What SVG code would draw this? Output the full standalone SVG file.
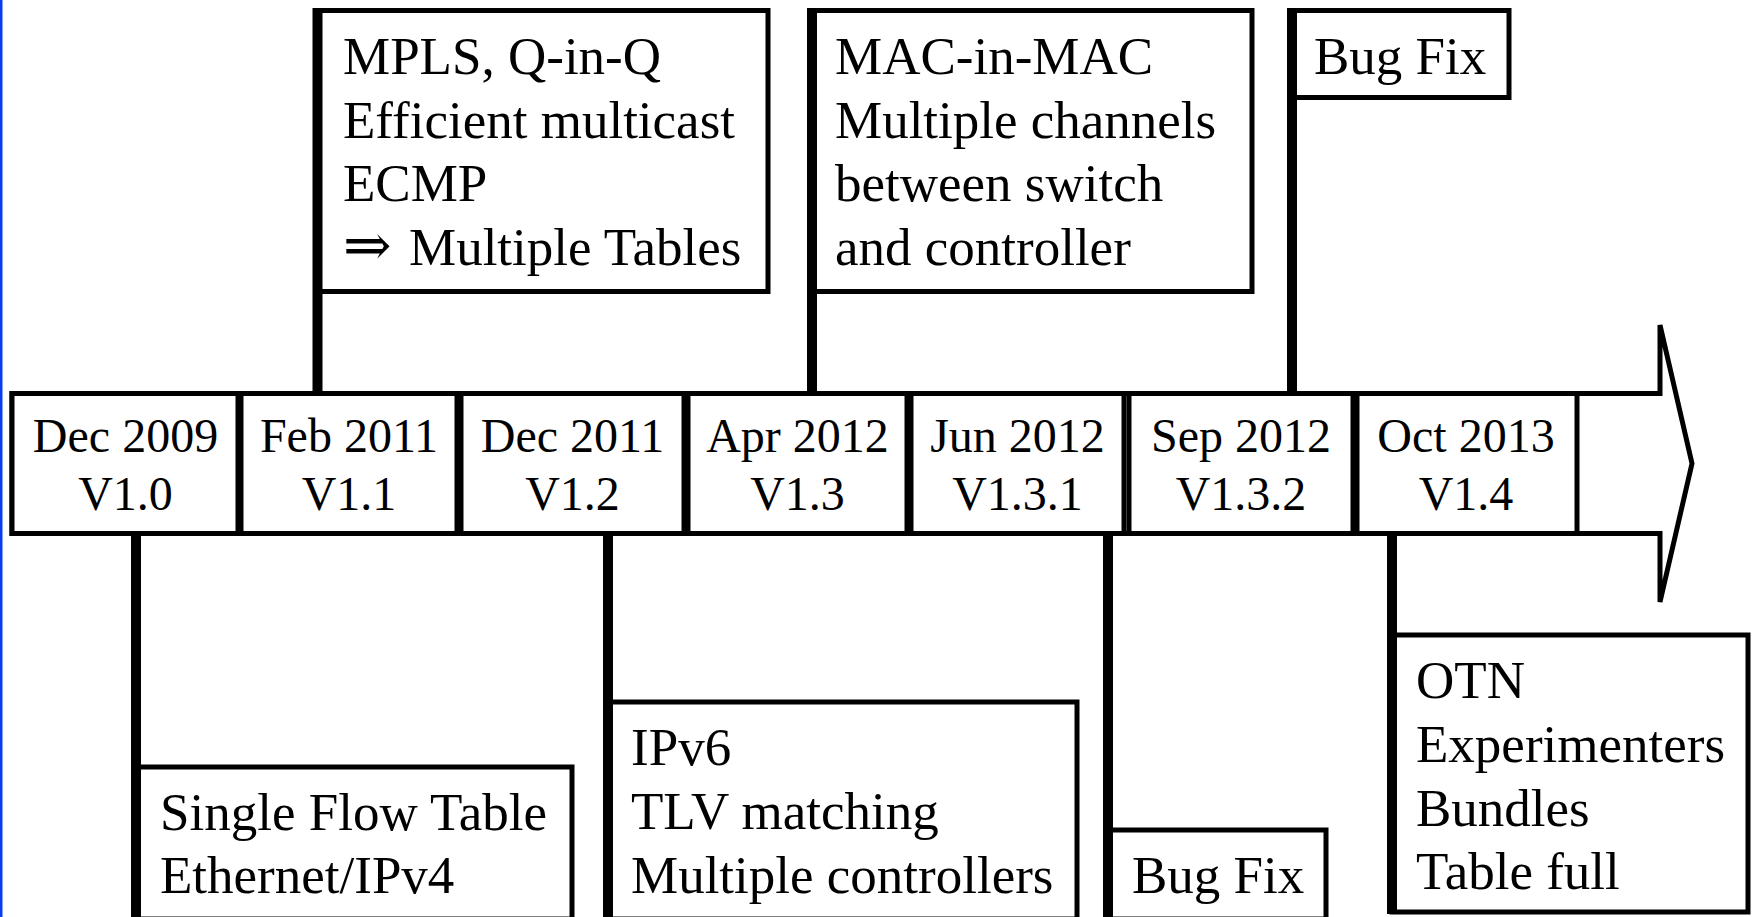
<svg xmlns="http://www.w3.org/2000/svg" width="1757" height="917" viewBox="0 0 1757 917">
<style>
.box{fill:#fff;stroke:#000;stroke-width:5}
.bar{stroke:#000;stroke-width:10;fill:none}
.t{font-family:'Liberation Serif','Times New Roman','DejaVu Serif',serif;font-size:53px;fill:#000}
.tl{font-family:'Liberation Serif','Times New Roman',serif;font-size:48px;fill:#000;text-anchor:middle}
</style>
<rect x="0" y="0" width="1757" height="917" fill="#fff"/>
<rect x="0" y="0" width="2.5" height="917" fill="#0b3cf5"/>
<g id="timeline-arrow">
<polygon class="box" points="12,393.5 1660,393.5 1660,325 1692,463.5 1660,602 1660,533.5 12,533.5"/>
</g>
<g id="v10"><rect class="box" x="12" y="393.5" width="226" height="140"/><text class="tl" x="125.5" y="452">Dec 2009</text><text class="tl" x="125.5" y="510">V1.0</text></g>
<g id="v11"><rect class="box" x="241" y="393.5" width="216" height="140"/><text class="tl" x="349" y="452">Feb 2011</text><text class="tl" x="349" y="510">V1.1</text></g>
<g id="v12"><rect class="box" x="461" y="393.5" width="223" height="140"/><text class="tl" x="572.5" y="452">Dec 2011</text><text class="tl" x="572.5" y="510">V1.2</text></g>
<g id="v13"><rect class="box" x="688" y="393.5" width="219" height="140"/><text class="tl" x="797.5" y="452">Apr 2012</text><text class="tl" x="797.5" y="510">V1.3</text></g>
<g id="v131"><rect class="box" x="911" y="393.5" width="213" height="140"/><text class="tl" x="1017.5" y="452">Jun 2012</text><text class="tl" x="1017.5" y="510">V1.3.1</text></g>
<g id="v132"><rect class="box" x="1129" y="393.5" width="224" height="140"/><text class="tl" x="1241" y="452">Sep 2012</text><text class="tl" x="1241" y="510">V1.3.2</text></g>
<g id="v14"><rect class="box" x="1357" y="393.5" width="220" height="140"/><text class="tl" x="1466" y="452">Oct 2013</text><text class="tl" x="1466" y="510">V1.4</text></g>

<g id="note-v11"><rect class="box" x="317.5" y="10.5" width="450.5" height="281"/>
<text class="t" x="343" y="74">MPLS, Q-in-Q</text><text class="t" x="343" y="138">Efficient multicast</text><text class="t" x="343" y="201">ECMP</text><text class="t" y="265"><tspan x="343" font-size="58">⇒</tspan><tspan x="409">Multiple Tables</tspan></text></g>
<g id="note-v13"><rect class="box" x="812" y="10.5" width="440" height="281"/>
<text class="t" x="835" y="74">MAC-in-MAC</text><text class="t" x="835" y="138">Multiple channels</text><text class="t" x="835" y="201">between switch</text><text class="t" x="835" y="265">and controller</text></g>
<g id="note-v132"><rect class="box" x="1292" y="10.5" width="217" height="87"/>
<text class="t" x="1314" y="74">Bug Fix</text></g>
<g id="note-v10"><rect class="box" x="136" y="767" width="436" height="152"/>
<text class="t" x="160" y="830">Single Flow Table</text><text class="t" x="160" y="893">Ethernet/IPv4</text></g>
<g id="note-v12"><rect class="box" x="608" y="702" width="469" height="217"/>
<text class="t" x="631" y="765">IPv6</text><text class="t" x="631" y="829">TLV matching</text><text class="t" x="631" y="893">Multiple controllers</text></g>
<g id="note-v131"><rect class="box" x="1108" y="830" width="218" height="89"/>
<text class="t" x="1132" y="893">Bug Fix</text></g>
<g id="note-v14"><rect class="box" x="1392" y="635" width="356" height="277"/>
<text class="t" x="1416" y="698">OTN</text><text class="t" x="1416" y="762">Experimenters</text><text class="t" x="1416" y="826">Bundles</text><text class="t" x="1416" y="889">Table full</text></g>

<g id="connectors">
<line class="bar" x1="317.5" y1="8" x2="317.5" y2="393.5"/>
<line class="bar" x1="812" y1="8" x2="812" y2="393.5"/>
<line class="bar" x1="1292" y1="8" x2="1292" y2="393.5"/>
<line class="bar" x1="136" y1="533.5" x2="136" y2="917"/>
<line class="bar" x1="608" y1="533.5" x2="608" y2="917"/>
<line class="bar" x1="1108" y1="533.5" x2="1108" y2="917"/>
<line class="bar" x1="1392" y1="533.5" x2="1392" y2="914"/>
</g>
</svg>
